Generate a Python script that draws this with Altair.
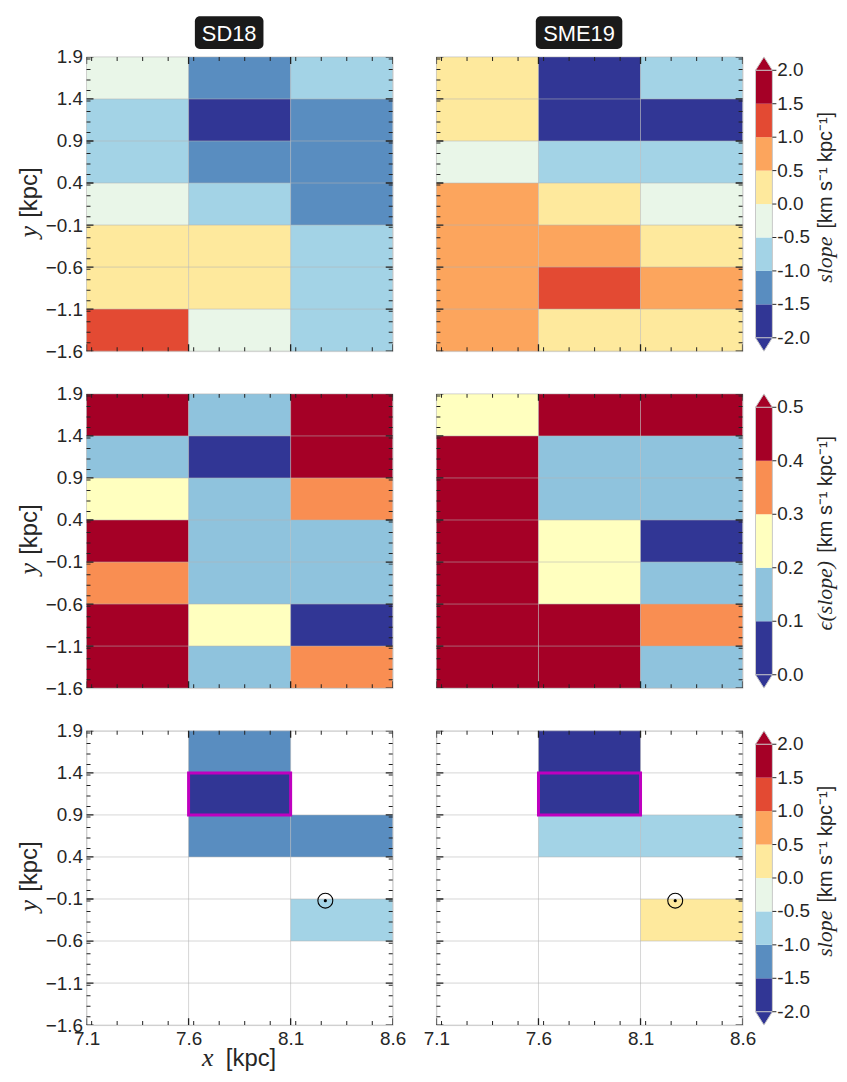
import altair as alt
import pandas as pd

# ---------------- data ----------------
x_edges = [7.1, 7.6, 8.1, 8.6]
y_edges = [-1.6, -1.1, -0.6, -0.1, 0.4, 0.9, 1.4, 1.9]

# rows listed from top (y 1.4..1.9) to bottom (y -1.6..-1.1); columns x 7.1-7.6, 7.6-8.1, 8.1-8.6
sd18_slope = [
    [-0.3, -1.3, -0.8],
    [-0.7, -1.8, -1.2],
    [-0.8, -1.2, -1.3],
    [-0.2, -0.7, -1.2],
    [0.3, 0.2, -0.8],
    [0.2, 0.3, -0.7],
    [1.2, -0.3, -0.8],
]
sme19_slope = [
    [0.3, -1.7, -0.8],
    [0.2, -1.8, -1.6],
    [-0.2, -0.7, -0.8],
    [0.7, 0.3, -0.3],
    [0.8, 0.7, 0.2],
    [0.7, 1.2, 0.8],
    [0.6, 0.3, 0.2],
]
sd18_err = [
    [0.46, 0.15, 0.52],
    [0.14, 0.07, 0.48],
    [0.24, 0.16, 0.35],
    [0.45, 0.13, 0.15],
    [0.34, 0.14, 0.16],
    [0.50, 0.25, 0.08],
    [0.47, 0.17, 0.36],
]
sme19_err = [
    [0.26, 0.44, 0.47],
    [0.45, 0.15, 0.16],
    [0.48, 0.14, 0.15],
    [0.55, 0.23, 0.06],
    [0.52, 0.25, 0.13],
    [0.49, 0.46, 0.33],
    [0.60, 0.44, 0.17],
]
# cells kept in the bottom row of panels (1 = shown)
selected = [
    [0, 1, 0],
    [0, 1, 0],
    [0, 1, 1],
    [0, 0, 0],
    [0, 0, 1],
    [0, 0, 0],
    [0, 0, 0],
]
highlight_x = [7.6, 8.1]
highlight_y = [0.9, 1.4]
sun_x = [8.27]
sun_y = [-0.12]

slope_edges = [-2.0, -1.5, -1.0, -0.5, 0.0, 0.5, 1.0, 1.5, 2.0]
slope_colors = ["#313695", "#598dc0", "#a3d3e6", "#e9f6e8",
                "#fee99d", "#fca55d", "#e34a33", "#a50026"]
err_edges = [0.0, 0.1, 0.2, 0.3, 0.4, 0.5]
err_colors = ["#313695", "#8fc3dd", "#ffffbf", "#f98e52", "#a50026"]

column_names = ["SD18", "SME19"]
unit_text = "[km s\u207b\u00b9 kpc\u207b\u00b9]"

# ---------------- style / layout ----------------
W, H = 308, 296
CB_GAP, CB_W = 13, 17
FONT = "Liberation Sans"
SERIF = "Liberation Serif"
TXT = "#262626"
TICK = "#222222"
LBL = 19

x_major = x_edges
y_major = y_edges
x_minor = [k * 0.125 for k in range(57, 69)]
y_minor = [k * 0.125 for k in range(-12, 16)]

xs = alt.Scale(domain=[x_edges[0], x_edges[-1]], nice=False, zero=False)
ys = alt.Scale(domain=[y_edges[0], y_edges[-1]], nice=False, zero=False)
ONE = pd.DataFrame({"k": [0]})


def cscale(edges, colors):
    return alt.Scale(type="threshold", domain=edges[1:-1], range=colors)


def cell_frame(grid, mask=None):
    rows = []
    n = len(grid)
    for i, row in enumerate(grid):
        for j, v in enumerate(row):
            if mask is not None and not mask[i][j]:
                continue
            rows.append(dict(x1=x_edges[j], x2=x_edges[j + 1],
                             y1=y_edges[n - 1 - i], y2=y_edges[n - i], value=v))
    return pd.DataFrame(rows, columns=["x1", "x2", "y1", "y2", "value"])


def label_text(**kw):
    return alt.Chart(ONE).mark_text(**kw)


def panel(df, scale, left, bottom, col_title=None, extras=False, cbar=None):
    if left:
        yaxis = alt.Axis(orient="left", values=y_major, format=".1f", ticks=False, domain=False,
                         grid=False, labelFont=FONT, labelFontSize=LBL, labelColor=TXT,
                         labelPadding=4, labelOverlap=False,
                         title="[kpc]", titleFont=FONT, titleFontSize=24, titleFontWeight="normal",
                         titleColor=TXT, titleAngle=270, titleAlign="center",
                         titleBaseline="alphabetic", titleX=-50, titleY=136)
    else:
        yaxis = None
    if bottom:
        xaxis = alt.Axis(orient="bottom", values=x_major, format=".1f", ticks=False, domain=False,
                         grid=False, labelFont=FONT, labelFontSize=LBL, labelColor=TXT,
                         labelPadding=5, labelOverlap=False, labelFlush=False,
                         title="[kpc]" if left else "", titleFont=FONT, titleFontSize=24,
                         titleFontWeight="normal", titleColor=TXT, titleAlign="center",
                         titleBaseline="alphabetic", titleX=165, titleY=41)
    else:
        xaxis = None

    def X(f):
        return alt.X(f, scale=xs, axis=xaxis)

    def Y(f):
        return alt.Y(f, scale=ys, axis=yaxis)

    layers = []
    layers.append(alt.Chart(df).mark_rect(strokeWidth=0).encode(
        x=X("x1:Q"), x2="x2:Q", y=Y("y1:Q"), y2="y2:Q",
        color=alt.Color("value:Q", scale=scale, legend=None)))
    # grid
    layers.append(alt.Chart(pd.DataFrame({"gx": x_major})).mark_rule(
        color="#b4b4b4", opacity=0.55, strokeWidth=1).encode(x=X("gx:Q")))
    layers.append(alt.Chart(pd.DataFrame({"gy": y_major})).mark_rule(
        color="#b4b4b4", opacity=0.55, strokeWidth=1).encode(y=Y("gy:Q")))
    if extras:
        layers.append(alt.Chart(pd.DataFrame({"hx1": [highlight_x[0]], "hx2": [highlight_x[1]],
                                              "hy1": [highlight_y[0]], "hy2": [highlight_y[1]]})
                                ).mark_rect(fillOpacity=0, stroke="#bf00bf", strokeWidth=3).encode(
            x=X("hx1:Q"), x2="hx2:Q", y=Y("hy1:Q"), y2="hy2:Q"))
        sun = alt.Chart(pd.DataFrame({"sx": sun_x, "sy": sun_y}))
        layers.append(sun.mark_point(shape="circle", filled=False, size=225, color="black",
                                     strokeWidth=1.1, opacity=1).encode(x=X("sx:Q"), y=Y("sy:Q")))
        layers.append(sun.mark_point(shape="circle", filled=True, size=10, color="black",
                                     opacity=1).encode(x=X("sx:Q"), y=Y("sy:Q")))
    # inward ticks on all four sides
    for vals, size, thick in [(x_major, 14, 1.3), (x_minor, 8, 1.0)]:
        d = pd.DataFrame({"tv": vals})
        for yv in [0, H]:
            layers.append(alt.Chart(d).mark_tick(orient="vertical", size=size, thickness=thick,
                                                 color=TICK, opacity=1, clip=True).encode(
                x=X("tv:Q"), y=alt.value(yv)))
    for vals, size, thick in [(y_major, 14, 1.3), (y_minor, 8, 1.0)]:
        d = pd.DataFrame({"tv": vals})
        for xv in [0, W]:
            layers.append(alt.Chart(d).mark_tick(orient="horizontal", size=size, thickness=thick,
                                                 color=TICK, opacity=1, clip=True).encode(
                y=Y("tv:Q"), x=alt.value(xv)))
    # axis-title symbols in math italics
    if left:
        layers.append(label_text(text="y", font=SERIF, fontStyle="italic", fontSize=26,
                                 color=TXT, angle=270, align="center",
                                 baseline="alphabetic").encode(
            x=alt.value(-50), y=alt.value(176)))
    if left and bottom:
        layers.append(label_text(text="x", font=SERIF, fontStyle="italic", fontSize=26,
                                 color=TXT, align="center", baseline="alphabetic").encode(
            x=alt.value(122), y=alt.value(H + 41)))
    # column title boxes
    if col_title is not None:
        name, bx0, bx1 = col_title
        layers.append(alt.Chart(ONE).mark_rect(color="#1a1a1a", cornerRadius=5).encode(
            x=alt.value(bx0), x2=alt.value(bx1), y=alt.value(-41), y2=alt.value(-8)))
        layers.append(label_text(text=name, color="white", font=FONT, fontSize=22,
                                 align="center", baseline="middle").encode(
            x=alt.value((bx0 + bx1) / 2), y=alt.value(-23.5)))
    # colour bar (legend) drawn beside the panel, mapped onto the panel's height
    if cbar is not None:
        edges, colors, math_title, unit_y, math_y = cbar
        sc = cscale(edges, colors)
        ext = 0.05 * (edges[-1] - edges[0])
        v0 = edges[0] - ext
        k = (y_edges[-1] - y_edges[0]) / (edges[-1] - edges[0] + 2 * ext)
        y0 = y_edges[0]

        def to_y(field):
            return f"{y0} + (datum.{field} - ({v0})) * {k}"

        x0, x1 = W + CB_GAP, W + CB_GAP + CB_W
        cb = pd.DataFrame({"lo": edges[:-1], "hi": edges[1:],
                           "value": [(a + b) / 2 for a, b in zip(edges[:-1], edges[1:])]})
        layers.append(alt.Chart(cb).transform_calculate(cy1=to_y("lo"), cy2=to_y("hi")).mark_rect(
            strokeWidth=0).encode(
            x=alt.value(x0), x2=alt.value(x1), y=Y("cy1:Q"), y2="cy2:Q",
            color=alt.Color("value:Q", scale=sc, legend=None)))
        # outline sides
        side = pd.DataFrame({"lo": [edges[0]], "hi": [edges[-1]]})
        for xv in [x0, x1]:
            layers.append(alt.Chart(side).transform_calculate(cy1=to_y("lo"), cy2=to_y("hi")
                                                              ).mark_rule(
                color="#c8c8c8", strokeWidth=1).encode(
                x=alt.value(xv), y=Y("cy1:Q"), y2="cy2:Q"))
        ry = 13.45 / CB_W
        up = f"M-1,{ry:.3f}L0,{-ry:.3f}L1,{ry:.3f}Z"
        down = f"M-1,{-ry:.3f}L0,{ry:.3f}L1,{-ry:.3f}Z"
        tri = pd.DataFrame({"tp": [edges[-1] + ext / 2], "value": [edges[-1]]})
        layers.append(alt.Chart(tri).transform_calculate(cy=to_y("tp")).mark_point(
            shape=up, filled=True, size=CB_W * CB_W, opacity=1, stroke="#c8c8c8",
            strokeWidth=1).encode(
            x=alt.value((x0 + x1) / 2), y=Y("cy:Q"),
            color=alt.Color("value:Q", scale=sc, legend=None)))
        tri = pd.DataFrame({"tp": [edges[0] - ext / 2], "value": [edges[0]]})
        layers.append(alt.Chart(tri).transform_calculate(cy=to_y("tp")).mark_point(
            shape=down, filled=True, size=CB_W * CB_W, opacity=1, stroke="#c8c8c8",
            strokeWidth=1).encode(
            x=alt.value((x0 + x1) / 2), y=Y("cy:Q"),
            color=alt.Color("value:Q", scale=sc, legend=None)))
        labs = pd.DataFrame({"tv": edges, "lab": [f"{e:.1f}" for e in edges]})
        layers.append(alt.Chart(labs).transform_calculate(cy=to_y("tv")).mark_tick(
            orient="horizontal", size=4, thickness=1, color=TXT, opacity=1).encode(
            x=alt.value(x1 + 2), y=Y("cy:Q")))
        layers.append(alt.Chart(labs).transform_calculate(cy=to_y("tv")).mark_text(
            font=FONT, fontSize=LBL, color=TXT, align="left", baseline="middle").encode(
            x=alt.value(x1 + 5), y=Y("cy:Q"), text="lab:N"))
        layers.append(label_text(text=unit_text, font=FONT, fontSize=20, color=TXT, angle=270,
                                 align="center", baseline="alphabetic").encode(
            x=alt.value(x1 + 60), y=alt.value(unit_y)))
        layers.append(label_text(text=math_title, font=SERIF, fontStyle="italic", fontSize=22,
                                 color=TXT, angle=270, align="center",
                                 baseline="alphabetic").encode(
            x=alt.value(x1 + 60), y=alt.value(math_y)))
    return alt.layer(*layers).properties(width=W, height=H)


slope_scale = cscale(slope_edges, slope_colors)
err_scale = cscale(err_edges, err_colors)

rows = [
    alt.hconcat(
        panel(cell_frame(sd18_slope), slope_scale, True, False, (column_names[0], 109, 178)),
        panel(cell_frame(sme19_slope), slope_scale, False, False, (column_names[1], 100, 187),
              cbar=(slope_edges, slope_colors, "slope", 114, 204)),
        spacing=44, bounds="flush"),
    alt.hconcat(
        panel(cell_frame(sd18_err), err_scale, True, False),
        panel(cell_frame(sme19_err), err_scale, False, False,
              cbar=(err_edges, err_colors, "\u03f5(slope)", 101, 203)),
        spacing=44, bounds="flush"),
    alt.hconcat(
        panel(cell_frame(sd18_slope, selected), slope_scale, True, True, extras=True),
        panel(cell_frame(sme19_slope, selected), slope_scale, False, True, extras=True,
              cbar=(slope_edges, slope_colors, "slope", 114, 204)),
        spacing=44, bounds="flush"),
]

chart = alt.vconcat(*rows, spacing=22).resolve_scale(color="independent").properties(
    padding={"left": 7, "top": 4, "right": 2, "bottom": 2},
    background="white",
).configure_view(stroke="#c8c8c8", strokeWidth=1.5).configure(font=FONT)

chart.save("out.html", embed_options={"renderer": "svg", "actions": False})
